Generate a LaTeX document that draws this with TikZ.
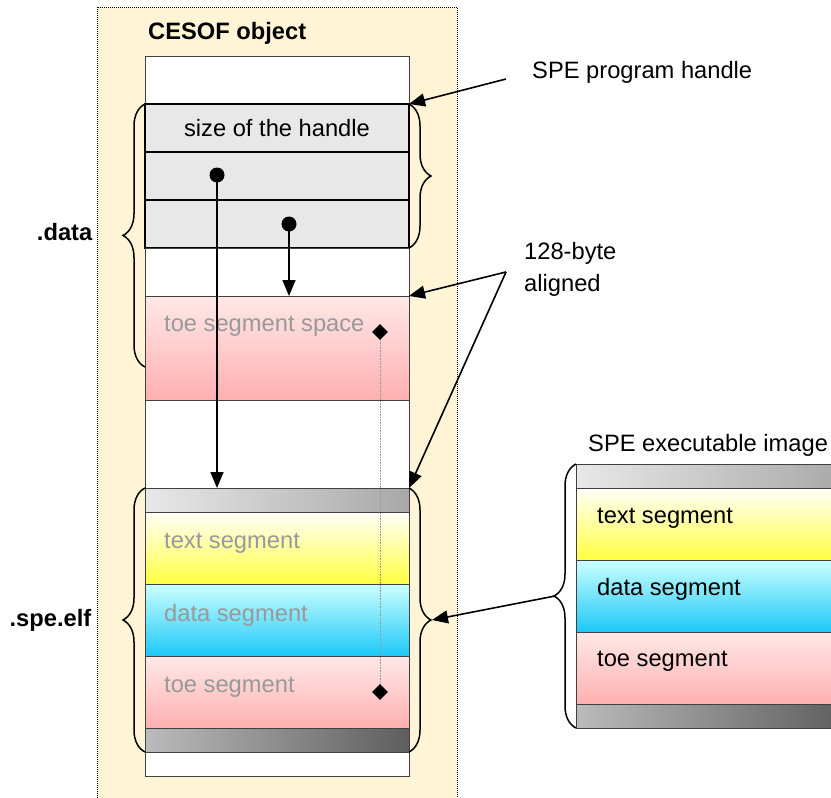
\documentclass[tikz,border=0pt]{standalone}
\usepackage{fontspec}
\setmainfont{Liberation Sans}
\usetikzlibrary{positioning,arrows.meta,shapes.geometric,decorations.pathreplacing}

\definecolor{cream}{HTML}{FFF5D6}
\definecolor{handlegray}{HTML}{E8E8E8}
\definecolor{toetop}{HTML}{FFE8E8}
\definecolor{toebot}{HTML}{FFB0B0}
\definecolor{texttop}{HTML}{FFFFFA}
\definecolor{textbot}{HTML}{FFFF40}
\definecolor{datatop}{HTML}{CCFFFF}
\definecolor{databot}{HTML}{1CC8F8}
\definecolor{barlight}{HTML}{E8E8E8}
\definecolor{barmid}{HTML}{A8A8A8}
\definecolor{bargray}{HTML}{BBBBBB}
\definecolor{bardark}{HTML}{5E5E5E}
\definecolor{fadetext}{HTML}{999999}

\tikzset{
  cell/.style={draw=black!75, line width=0.8pt, minimum width=264pt, inner sep=0pt, outer sep=0pt},
  whitecell/.style={cell, fill=white},
  handlecell/.style={cell, draw=black, line width=1.5pt, fill=handlegray, minimum height=48pt},
  toecell/.style={cell, top color=toetop, bottom color=toebot, minimum height=72pt},
  textcell/.style={cell, top color=texttop, bottom color=textbot, minimum height=72pt},
  datacell/.style={cell, top color=datatop, bottom color=databot, minimum height=72pt},
  lightbar/.style={cell, left color=barlight, right color=barmid, minimum height=24pt},
  darkbar/.style={cell, left color=bargray, right color=bardark, minimum height=24pt},
  seglabel/.style={anchor=west, inner sep=0pt, text=fadetext},
  imglabel/.style={anchor=west, inner sep=0pt},
  bracelabel/.style={anchor=east, inner sep=0pt, font=\fontsize{23.7pt}{32pt}\selectfont\bfseries},
  dot/.style={circle, fill=black, inner sep=0pt, minimum size=15pt},
  diam/.style={diamond, fill=black, inner sep=0pt, minimum size=16pt},
  ptrarrow/.style={line width=1.6pt, -{Triangle[length=16pt,width=13pt]}},
  brace/.style={decorate, decoration={brace, amplitude=22pt}, line width=1.5pt},
  dotline/.style={densely dotted, draw=fadetext, line width=0.6pt}
}

\begin{document}
\begin{tikzpicture}[x=1pt, y=-1pt, font=\fontsize{23.7pt}{32pt}\selectfont]
  \useasboundingbox (0,0) rectangle (831,798);
  \clip (0,0) rectangle (831,798);

  % CESOF object frame
  \draw[fill=cream, densely dotted, line width=1pt] (97,7) rectangle (457,830);
  \node[bracelabel, anchor=west] (cesof) at (148,33) {CESOF object};

  % left column
  \node[whitecell, minimum height=48pt, anchor=north] (w0) at (277,56) {};
  \node[handlecell, below=0pt of w0] (h1) {size of the handle};
  \node[handlecell, below=0pt of h1] (h2) {};
  \node[handlecell, below=0pt of h2] (h3) {};
  \node[whitecell, minimum height=48pt, below=0pt of h3] (w1) {};
  \node[toecell, minimum height=104pt, below=0pt of w1] (toespace) {};
  \node[whitecell, minimum height=88pt, below=0pt of toespace] (w2) {};
  \node[lightbar, below=0pt of w2] (bar1) {};
  \node[textcell, below=0pt of bar1] (text) {};
  \node[datacell, below=0pt of text] (data) {};
  \node[toecell, below=0pt of data] (toe) {};
  \node[darkbar, below=0pt of toe] (bar2) {};
  \node[whitecell, minimum height=24pt, below=0pt of bar2] (w3) {};

  \node[seglabel] (toespacetxt) at ([xshift=19pt,yshift=-30pt]toespace.north west) {toe segment space};
  \node[seglabel] (texttxt) at ([xshift=19pt,yshift=5pt]text.west) {text segment};
  \node[seglabel] (datatxt) at ([xshift=19pt,yshift=5pt]data.west) {data segment};
  \node[seglabel] (toetxt) at ([xshift=19pt,yshift=5pt]toe.west) {toe segment};

  % pointers
  \node[dot] (ptr1) at (217,175) {};
  \node[dot] (ptr2) at (289,224) {};
  \draw[ptrarrow] (ptr1.center) -- (ptr1 |- bar1.north);
  \draw[ptrarrow] (ptr2.center) -- (ptr2 |- toespace.north);

  \node[diam] (dtop) at (380,332) {};
  \node[diam] (dbot) at (380,692) {};
  \draw[dotline] (dtop) -- (dbot);

  % braces
  \draw[brace] ([yshift=33pt]toespace.south west) -- node[bracelabel, xshift=-52pt, yshift=3pt] {.data} (h1.north west);
  \draw[brace] (h1.north east) -- (h3.south east);
  \draw[brace] (bar2.south west) -- node[bracelabel, xshift=-53pt] {.spe.elf} (bar1.north west);
  \draw[brace] (bar1.north east) -- coordinate[midway, xshift=23pt] (elftip) (bar2.south east);

  % SPE executable image
  \node[imglabel] (imgtitle) at (588,445) {SPE executable image};
  \node[lightbar, minimum width=270pt, anchor=north] (rbar1) at (711,464) {};
  \node[textcell, minimum width=270pt, below=0pt of rbar1] (rtext) {};
  \node[datacell, minimum width=270pt, below=0pt of rtext] (rdata) {};
  \node[toecell, minimum width=270pt, below=0pt of rdata] (rtoe) {};
  \node[darkbar, minimum width=270pt, below=0pt of rtoe] (rbar2) {};
  \node[imglabel] (rtexttxt) at ([xshift=21pt,yshift=6pt]rtext.west) {text segment};
  \node[imglabel] (rdatatxt) at ([xshift=21pt,yshift=7pt]rdata.west) {data segment};
  \node[imglabel] (rtoetxt) at ([xshift=21pt,yshift=7pt]rtoe.west) {toe segment};
  \draw[brace] (rbar2.south west) -- coordinate[midway, xshift=-21pt] (imgtip) (rbar1.north west);
  \draw[ptrarrow] (imgtip) -- (elftip);

  % callouts
  \node[imglabel] (handletxt) at (532,72) {SPE program handle};
  \node[imglabel, align=left] (aligntxt) at (524,269) {128-byte\\aligned};
  \coordinate (handlefrom) at (506,79);
  \coordinate (alignfrom) at (506,272);
  \draw[ptrarrow] (handlefrom) -- (h1.north east);
  \draw[ptrarrow] (alignfrom) -- (toespace.north east);
  \draw[ptrarrow] (alignfrom) -- (bar1.north east);
\end{tikzpicture}
\end{document}
